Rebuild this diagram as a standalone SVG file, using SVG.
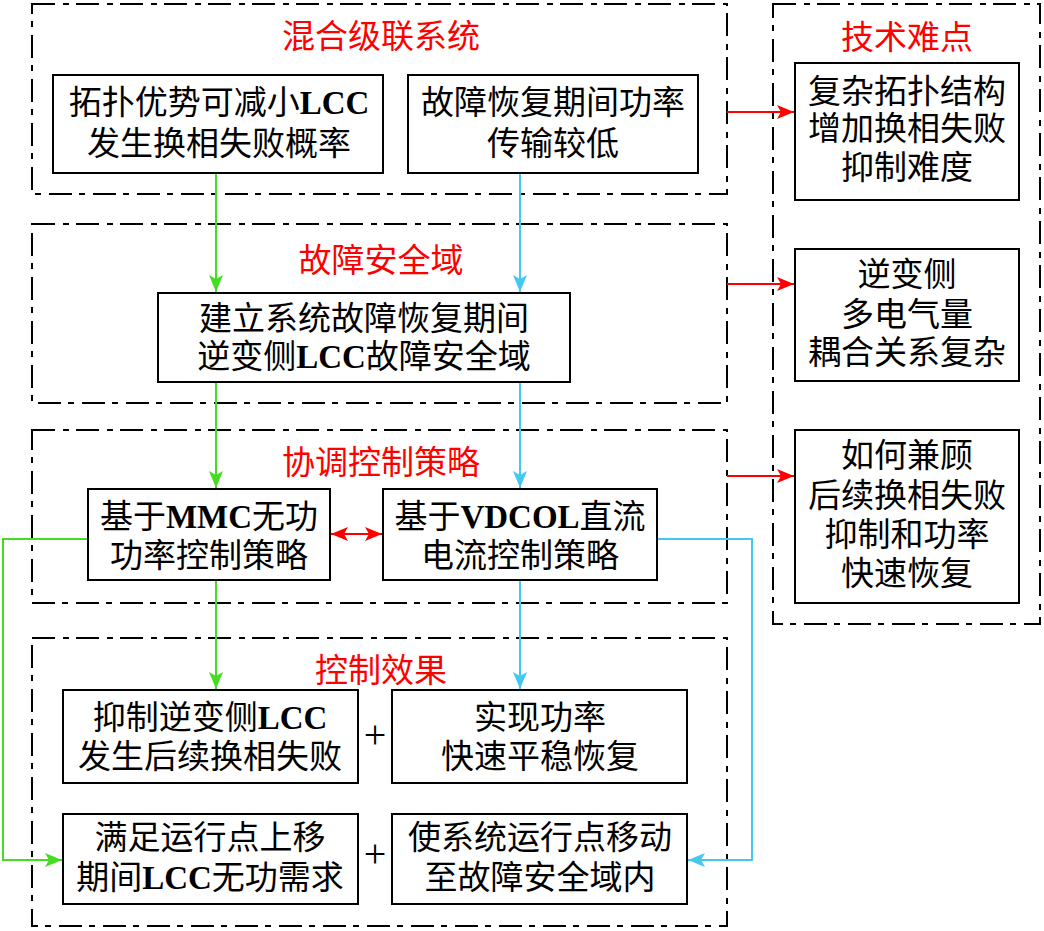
<svg xmlns="http://www.w3.org/2000/svg" width="1044" height="931" viewBox="0 0 1044 931">
<style>
.frame{fill:none;stroke:#000;stroke-width:2;stroke-dasharray:23 8 6 7}
.box{fill:#fff;stroke:#000;stroke-width:2}
.t{font-family:"Liberation Serif","Noto Sans CJK SC",serif;font-size:33px;fill:#000;text-anchor:middle}
.title{fill:#ff0000}
.b{font-weight:bold}
.p{font-size:40px}
.g{fill:none;stroke:#44dd22;stroke-width:2}
.c{fill:none;stroke:#44c8f0;stroke-width:2}
.r{fill:none;stroke:#ff0000;stroke-width:2}
</style>
<defs>
<marker id="ag" markerUnits="userSpaceOnUse" markerWidth="17" markerHeight="14" refX="17" refY="7" orient="auto"><path d="M0,0 L17,7 L0,14 L4,7 z" fill="#44dd22"/></marker>
<marker id="ac" markerUnits="userSpaceOnUse" markerWidth="17" markerHeight="14" refX="17" refY="7" orient="auto"><path d="M0,0 L17,7 L0,14 L4,7 z" fill="#44c8f0"/></marker>
<marker id="ar" markerUnits="userSpaceOnUse" markerWidth="17" markerHeight="14" refX="17" refY="7" orient="auto-start-reverse"><path d="M0,0 L17,7 L0,14 L4,7 z" fill="#ff0000"/></marker>
</defs>
<rect width="1044" height="931" fill="#fff"/>

<g id="frames">
<rect class="frame" x="32" y="4" width="695" height="190"/>
<rect class="frame" x="32" y="224" width="695" height="179"/>
<rect class="frame" x="32" y="430" width="695" height="173"/>
<rect class="frame" x="32" y="638" width="695" height="288"/>
<rect class="frame" x="773" y="4" width="267" height="620"/>
<text class="t title" x="381" y="48">混合级联系统</text>
<text class="t title" x="381" y="272">故障安全域</text>
<text class="t title" x="381" y="474">协调控制策略</text>
<text class="t title" x="381" y="682">控制效果</text>
<text class="t title" x="907" y="49">技术难点</text>
</g>

<g id="connectors">
<line class="g" x1="216" y1="174" x2="216" y2="292" marker-end="url(#ag)"/>
<line class="g" x1="216" y1="383" x2="216" y2="488" marker-end="url(#ag)"/>
<line class="g" x1="216" y1="581" x2="216" y2="689" marker-end="url(#ag)"/>
<line class="c" x1="520" y1="174" x2="520" y2="292" marker-end="url(#ac)"/>
<line class="c" x1="520" y1="383" x2="520" y2="488" marker-end="url(#ac)"/>
<line class="c" x1="520" y1="581" x2="520" y2="689" marker-end="url(#ac)"/>
<line class="r" x1="331" y1="534" x2="382" y2="534" marker-start="url(#ar)" marker-end="url(#ar)"/>
<polyline class="g" points="88,539 3,539 3,860 62,860" marker-end="url(#ag)"/>
<polyline class="c" points="657,539 752,539 752,860 688,860" marker-end="url(#ac)"/>
<line class="r" x1="727" y1="112" x2="794" y2="112" marker-end="url(#ar)"/>
<line class="r" x1="727" y1="284" x2="794" y2="284" marker-end="url(#ar)"/>
<line class="r" x1="727" y1="476" x2="794" y2="476" marker-end="url(#ar)"/>
</g>

<g id="n1"><rect class="box" x="53" y="75" width="330" height="98"/>
<text class="t" x="219" y="114">拓扑优势可减小<tspan class="b">LCC</tspan></text>
<text class="t" x="219" y="155">发生换相失败概率</text></g>
<g id="n2"><rect class="box" x="408" y="75" width="290" height="98"/>
<text class="t" x="553" y="114">故障恢复期间功率</text>
<text class="t" x="553" y="155">传输较低</text></g>
<g id="n3"><rect class="box" x="158" y="293" width="412" height="89"/>
<text class="t" x="364" y="330">建立系统故障恢复期间</text>
<text class="t" x="364" y="368">逆变侧<tspan class="b">LCC</tspan>故障安全域</text></g>
<g id="n4"><rect class="box" x="88" y="489" width="242" height="91"/>
<text class="t" x="209" y="528">基于<tspan class="b">MMC</tspan>无功</text>
<text class="t" x="209" y="567">功率控制策略</text></g>
<g id="n5"><rect class="box" x="383" y="489" width="274" height="91"/>
<text class="t" x="520" y="528">基于<tspan class="b">VDCOL</tspan>直流</text>
<text class="t" x="520" y="567">电流控制策略</text></g>
<g id="n6"><rect class="box" x="63" y="690" width="295" height="93"/>
<text class="t" x="210" y="729">抑制逆变侧<tspan class="b">LCC</tspan></text>
<text class="t" x="210" y="768">发生后续换相失败</text></g>
<g id="n7"><rect class="box" x="392" y="690" width="295" height="93"/>
<text class="t" x="540" y="729">实现功率</text>
<text class="t" x="540" y="768">快速平稳恢复</text></g>
<g id="n8"><rect class="box" x="63" y="814" width="295" height="90"/>
<text class="t" x="210" y="849">满足运行点上移</text>
<text class="t" x="210" y="889">期间<tspan class="b">LCC</tspan>无功需求</text></g>
<g id="n9"><rect class="box" x="392" y="814" width="295" height="90"/>
<text class="t" x="540" y="849">使系统运行点移动</text>
<text class="t" x="540" y="889">至故障安全域内</text></g>
<g id="plus"><text class="t p" x="375" y="748">+</text><text class="t p" x="375" y="867">+</text></g>
<g id="r1"><rect class="box" x="795" y="63" width="224" height="137"/>
<text class="t" x="907" y="103">复杂拓扑结构</text>
<text class="t" x="907" y="140">增加换相失败</text>
<text class="t" x="907" y="179">抑制难度</text></g>
<g id="r2"><rect class="box" x="795" y="249" width="224" height="132"/>
<text class="t" x="907" y="286">逆变侧</text>
<text class="t" x="907" y="326">多电气量</text>
<text class="t" x="907" y="364">耦合关系复杂</text></g>
<g id="r3"><rect class="box" x="795" y="430" width="224" height="173"/>
<text class="t" x="907" y="467">如何兼顾</text>
<text class="t" x="907" y="507">后续换相失败</text>
<text class="t" x="907" y="546">抑制和功率</text>
<text class="t" x="907" y="585">快速恢复</text></g>
</svg>
